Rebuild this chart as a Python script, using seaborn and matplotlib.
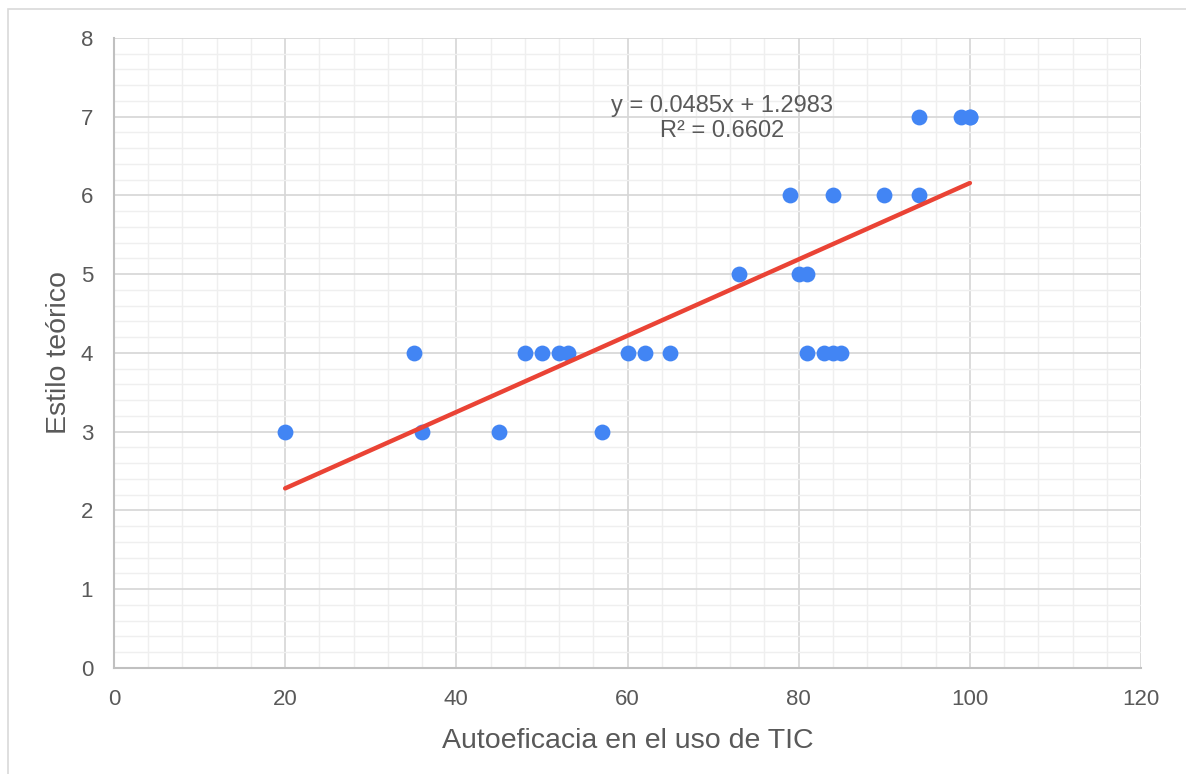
"""
Scatter of Autoeficacia TIC vs Estilo teórico with linear trend
"""
import matplotlib
matplotlib.use('Agg')
import matplotlib.pyplot as plt
import seaborn as sns
import numpy as np
import pandas as pd
from matplotlib.patches import Rectangle
from matplotlib.ticker import MultipleLocator

# (100, 7) appears twice: the overlapping dot is hidden, but the stated fit needs it
autoeficacia = [20, 35, 36, 45, 48, 50, 52, 53, 57, 60, 62, 65, 73, 79, 80, 81,
                81, 83, 84, 85, 84, 90, 94, 94, 99, 100, 100]
estilo_teorico = [3, 4, 3, 3, 4, 4, 4, 4, 3, 4, 4, 4, 5, 6, 5, 5,
                  4, 4, 4, 4, 6, 6, 6, 7, 7, 7, 7]
trend_label = "y = 0.0485x + 1.2983\nR² = 0.6602"

TEXT = '#595959'
BLUE = '#4285F4'
RED = '#EA4335'

df = pd.DataFrame({"x": autoeficacia, "y": estilo_teorico})

sns.set_style("white")
plt.rcParams['font.family'] = ['Liberation Sans', 'DejaVu Sans']

fig = plt.figure(figsize=(11.86, 7.74), dpi=100)
ax = fig.add_axes([0.0961, 0.137, 0.8660, 0.814])

# chart border (only top and left edges fall inside the image)
fig.patches.append(Rectangle((8 / 1186, -0.05), 1.1, 1.05 - 9 / 774,
                             transform=fig.transFigure, fill=False,
                             edgecolor='#d9d9d9', linewidth=1.2))

sns.regplot(data=df, x="x", y="y", ax=ax, ci=None,
            scatter_kws={"s": 130, "color": BLUE, "alpha": 1, "linewidths": 0, "zorder": 4},
            line_kws={"color": RED, "linewidth": 3.2, "zorder": 5})

ax.set_xlim(0, 120)
ax.set_ylim(0, 8)
ax.xaxis.set_major_locator(MultipleLocator(20))
ax.xaxis.set_minor_locator(MultipleLocator(4))
ax.yaxis.set_major_locator(MultipleLocator(1))
ax.yaxis.set_minor_locator(MultipleLocator(0.2))

ax.grid(which='major', color='#d6d6d6', linewidth=1.2, zorder=0)
ax.grid(which='minor', color='#efefef', linewidth=1.0, zorder=0)
ax.set_axisbelow(True)

for side in ['top', 'right']:
    ax.spines[side].set_visible(False)
for side in ['left', 'bottom']:
    ax.spines[side].set_color('#c0c0c0')
    ax.spines[side].set_linewidth(1.5)

ax.tick_params(which='major', length=5, width=1.2, color='#c0c0c0',
               labelsize=16, labelcolor=TEXT)
ax.tick_params(axis='y', which='major', pad=10)
ax.tick_params(axis='x', which='major', pad=10)
ax.tick_params(which='minor', length=0)

ax.set_xlabel("Autoeficacia en el uso de TIC", fontsize=20.5, color=TEXT, labelpad=13)
ax.set_ylabel("Estilo teórico", fontsize=20.5, color=TEXT, labelpad=6)

ax.text(71, 6.98, trend_label, ha='center', va='center', fontsize=17,
        color=TEXT, linespacing=1.2)

plt.savefig("out.png", dpi=100)
